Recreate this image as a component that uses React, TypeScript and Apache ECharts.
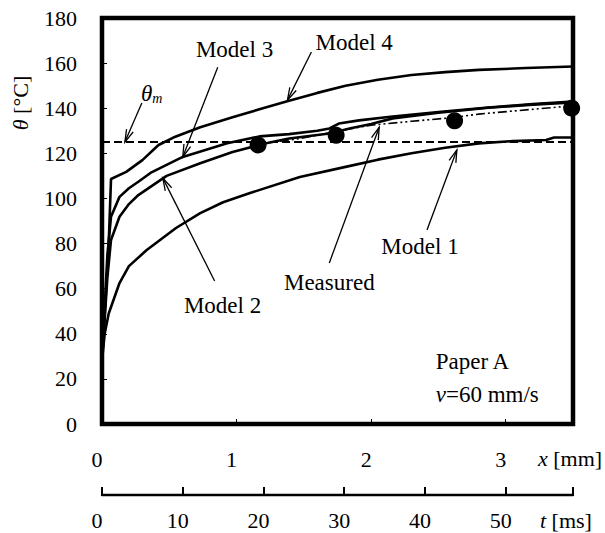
import React, { useEffect, useRef } from "react";
import * as echarts from "echarts";

const FONT = "'Liberation Serif', 'Times New Roman', serif";

// tick values
const yTicks = [0, 20, 40, 60, 80, 100, 120, 140, 160, 180];
const xMmTicks = [0, 1, 2, 3];
const tMsTicks = [0, 10, 20, 30, 40, 50];
const xMax = 3.5; // mm
const tMax = (xMax / 60) * 1000; // ms at v = 60 mm/s

// series values: [x (mm), θ (°C)]
const model1: [number, number][] = [
  [0, 28], [0.02, 40], [0.05, 49], [0.13, 62.5], [0.2, 70], [0.33, 77], [0.55, 86.9],
  [0.73, 93.5], [0.9, 98.3], [1.1, 102.4], [1.47, 109.5], [1.81, 114], [2.05, 117.2],
  [2.3, 120], [2.55, 122.5], [2.8, 124.4], [3.05, 125.4], [3.3, 125.9], [3.36, 127], [3.5, 127],
];
const model2: [number, number][] = [
  [0, 28], [0.04, 65], [0.067, 81.6], [0.13, 91.9], [0.2, 97.5], [0.27, 101.5], [0.48, 110],
  [0.73, 115.6], [0.97, 120.6], [1.22, 124.5], [1.39, 126.6], [1.69, 128.8], [1.84, 131],
  [2.0, 133], [2.16, 135.5], [2.5, 138], [2.87, 140.2], [3.2, 141.6], [3.5, 142.6],
];
const model3: [number, number][] = [
  [0, 28], [0.04, 75], [0.067, 91.9], [0.13, 100.7], [0.2, 104.5], [0.27, 107.4], [0.36, 111.3],
  [0.6, 118.4], [0.93, 124.5], [1.17, 127.5], [1.39, 128.5], [1.6, 130], [1.69, 131],
  [1.76, 133.2], [1.91, 134.6], [2.16, 136.3], [2.5, 138.3], [2.87, 140.3], [3.2, 141.8],
  [3.5, 143],
];
const model4: [number, number][] = [
  [0, 28], [0.05, 80], [0.067, 108.6], [0.18, 111.8], [0.3, 117], [0.42, 123.7],
  [0.53, 127], [0.73, 131.6], [0.97, 136], [1.17, 139.5], [1.37, 143], [1.6, 146.8], [1.81, 150],
  [2.05, 152.6], [2.3, 154.7], [2.55, 156], [2.8, 157], [3.15, 157.8], [3.5, 158.5],
];
const measuredLine: [number, number][] = [
  [1.16, 124.2], [1.47, 126.5], [1.79, 130.3], [2.0, 132.5], [2.3, 134.2], [2.6, 135.8],
  [2.8, 137.4], [3.1, 139], [3.41, 140.6], [3.5, 141],
];
const measuredPoints: [number, number][] = [
  [1.16, 123.7], [1.74, 128], [2.62, 134.4], [3.49, 140],
];
const thetaM = 125;

// annotations in data coordinates
const annotations = [
  { text: "Model 3", pos: [0.985, 166.2], tail: [0.86, 158.2], head: [0.6, 118.4] },
  { text: "Model 4", pos: [1.874, 169.3], tail: [1.556, 164.9], head: [1.378, 143.6] },
  { text: "{it|θ}{sub|m}", pos: [0.37, 146.7], tail: [0.296, 142.3], head: [0.17, 125] },
  { text: "Model 2", pos: [0.896, 52.7], tail: [0.837, 63.4], head: [0.452, 109] },
  { text: "Measured", pos: [1.689, 62.9], tail: [1.689, 71.4], head: [2.06, 131.6] },
  { text: "Model 1", pos: [2.363, 78.9], tail: [2.415, 86], head: [2.637, 121.5] },
];

const lineStyle = { color: "#000", width: 2.6 };

export default function App() {
  const ref = useRef<HTMLDivElement>(null);
  useEffect(() => {
    if (!ref.current) return;
    const chart = echarts.init(ref.current, null, { renderer: "svg" });
    const labelStyle = { color: "#000", fontFamily: FONT, fontSize: 22 };
    const mkLine = (name: string, data: [number, number][]) => ({
      name,
      type: "line",
      data,
      showSymbol: false,
      symbol: "none",
      lineStyle,
      z: 3,
    });
    chart.setOption({
      animation: false,
      backgroundColor: "#fff",
      grid: {
        left: 102, right: 32, top: 18, bottom: 109,
        show: true, borderWidth: 4.5, borderColor: "#000", backgroundColor: "transparent",
      },
      xAxis: [
        {
          type: "value", min: 0, max: xMax, interval: 1,
          axisLine: { show: false },
          splitLine: { show: false },
          axisTick: { show: true, inside: true, length: 5, lineStyle: { color: "#000", width: 1 } },
          axisLabel: {
            ...labelStyle, margin: 24, padding: [0, 10, 0, 0],
            customValues: xMmTicks,
          },
        },
        {
          type: "value", min: 0, max: tMax, interval: 10, position: "bottom", offset: 71,
          axisLine: { show: true, lineStyle: { color: "#000", width: 2.4 } },
          splitLine: { show: false },
          axisTick: {
            show: true, inside: true, length: 8, lineStyle: { color: "#000", width: 2 },
            customValues: [...tMsTicks, tMax],
          },
          axisLabel: { ...labelStyle, margin: 14, padding: [0, 10, 0, 0], customValues: tMsTicks },
        },
      ],
      yAxis: {
        type: "value", min: 0, max: 180, interval: 20,
        axisLine: { show: false },
        splitLine: { show: false },
        axisTick: { show: true, inside: true, length: 5, lineStyle: { color: "#000", width: 1 } },
        axisLabel: { ...labelStyle, margin: 25, customValues: yTicks },
      },
      series: [
        mkLine("Model 1", model1),
        mkLine("Model 2", model2),
        mkLine("Model 3", model3),
        mkLine("Model 4", model4),
        {
          name: "Measured (fit)", type: "line", data: measuredLine, symbol: "none",
          lineStyle: { color: "#000", width: 1.6, type: [9, 3, 2, 3, 2, 3] }, z: 3,
        },
        {
          name: "θm", type: "line", data: [[0, thetaM], [xMax, thetaM]], symbol: "none",
          lineStyle: { color: "#000", width: 2, type: [8, 4] }, z: 2,
        },
        {
          name: "Measured", type: "scatter", data: measuredPoints, symbol: "circle",
          symbolSize: 17, itemStyle: { color: "#000", opacity: 1 }, z: 5,
        },
      ],
    });

    const graphics: any[] = [];
    const L = 13;
    const ang = (16 * Math.PI) / 180;
    annotations.forEach((a) => {
      const p = chart.convertToPixel({ gridIndex: 0 }, a.pos) as number[];
      const t = chart.convertToPixel({ gridIndex: 0 }, a.tail) as number[];
      const h = chart.convertToPixel({ gridIndex: 0 }, a.head) as number[];
      graphics.push({
        type: "text", x: p[0], y: p[1], z: 10,
        style: {
          text: a.text, fill: "#000", fontFamily: FONT, fontSize: 23,
          align: "center", verticalAlign: "middle",
          rich: {
            it: { fontFamily: FONT, fontSize: 23, fontStyle: "italic", fill: "#000" },
            sub: { fontFamily: FONT, fontSize: 14, fontStyle: "italic", fill: "#000", verticalAlign: "bottom", padding: [10, 0, 0, 0] },
          },
        },
      });
      graphics.push({
        type: "line", z: 10,
        shape: { x1: t[0], y1: t[1], x2: h[0], y2: h[1] },
        style: { stroke: "#000", lineWidth: 1.3 },
      });
      const dx = t[0] - h[0];
      const dy = t[1] - h[1];
      const len = Math.hypot(dx, dy);
      const ux = dx / len;
      const uy = dy / len;
      const w1 = [h[0] + L * (ux * Math.cos(ang) - uy * Math.sin(ang)), h[1] + L * (ux * Math.sin(ang) + uy * Math.cos(ang))];
      const w2 = [h[0] + L * (ux * Math.cos(-ang) - uy * Math.sin(-ang)), h[1] + L * (ux * Math.sin(-ang) + uy * Math.cos(-ang))];
      graphics.push({
        type: "polyline", z: 10,
        shape: { points: [w1, h, w2] },
        style: { stroke: "#000", lineWidth: 1.3, fill: null },
      });
    });

    const paper = chart.convertToPixel({ gridIndex: 0 }, [2.48, 27.5]) as number[];
    const vel = chart.convertToPixel({ gridIndex: 0 }, [2.48, 12.9]) as number[];
    graphics.push({
      type: "text", x: paper[0], y: paper[1], z: 10,
      style: { text: "Paper A", fill: "#000", fontFamily: FONT, fontSize: 23, align: "left", verticalAlign: "middle" },
    });
    graphics.push({
      type: "text", x: vel[0], y: vel[1], z: 10,
      style: {
        text: "{it|v}=60 mm/s", fill: "#000", fontFamily: FONT, fontSize: 23, align: "left", verticalAlign: "middle",
        rich: { it: { fontFamily: FONT, fontSize: 23, fontStyle: "italic", fill: "#000" } },
      },
    });
    // axis titles
    graphics.push({
      type: "text", x: 538, y: 458, z: 10,
      style: {
        text: "{it|x} [mm]", fill: "#000", fontFamily: FONT, fontSize: 22, align: "left", verticalAlign: "middle",
        rich: { it: { fontFamily: FONT, fontSize: 22, fontStyle: "italic", fill: "#000" } },
      },
    });
    graphics.push({
      type: "text", x: 540, y: 520, z: 10,
      style: {
        text: "{it|t} [ms]", fill: "#000", fontFamily: FONT, fontSize: 22, align: "left", verticalAlign: "middle",
        rich: { it: { fontFamily: FONT, fontSize: 22, fontStyle: "italic", fill: "#000" } },
      },
    });
    graphics.push({
      type: "text", x: 20, y: 103, z: 10, rotation: Math.PI / 2,
      style: {
        text: "{it|θ} [°C]", fill: "#000", fontFamily: FONT, fontSize: 22, align: "center", verticalAlign: "middle",
        rich: { it: { fontFamily: FONT, fontSize: 22, fontStyle: "italic", fill: "#000" } },
      },
    });
    chart.setOption({ graphic: graphics });

    return () => chart.dispose();
  }, []);
  return (
    <div
      ref={ref}
      style={{ position: "absolute", left: 0, top: 0, width: 605, height: 533, background: "#fff" }}
    />
  );
}
